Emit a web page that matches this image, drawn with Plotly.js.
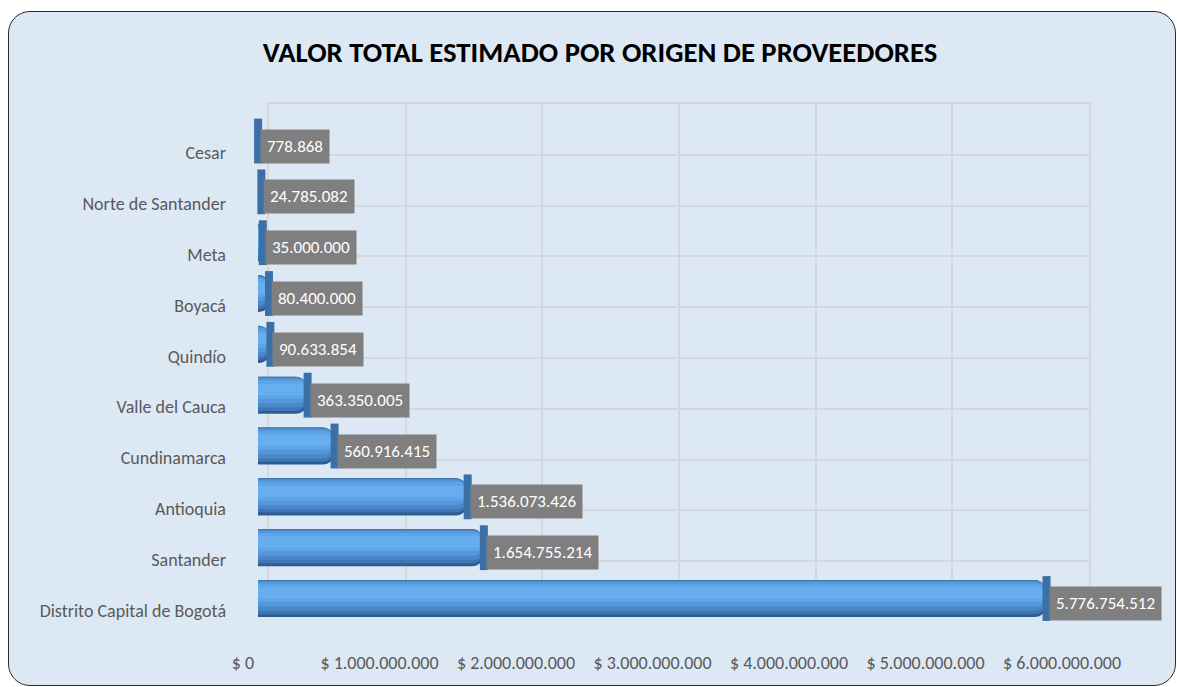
<!DOCTYPE html>
<html>
<head>
<meta charset="utf-8">
<script src="https://cdn.plot.ly/plotly-3.0.1.min.js"></script>
<style>
  html, body { margin: 0; padding: 0; background: #ffffff; }
  #wrap { position: relative; width: 1177px; height: 687px; overflow: hidden; }
  #frame { position: absolute; left: 8px; top: 11px; width: 1166px; height: 673px;
           background: #dde8f5; border: 1.5px solid #2b2b2b; border-radius: 22px; }
  #chart { position: absolute; left: 0; top: 0; width: 1177px; height: 687px; }
</style>
</head>
<body>
<div id="wrap">
  <div id="frame"></div>
  <div id="chart"></div>
</div>
<script>
// ---- data (bottom to top as drawn) ----
const categories = ['Distrito Capital de Bogotá', 'Santander', 'Antioquia', 'Cundinamarca',
  'Valle del Cauca', 'Quindío', 'Boyacá', 'Meta', 'Norte de Santander', 'Cesar'];
const values = [5776754512, 1654755214, 1536073426, 560916415, 363350005,
  90633854, 80400000, 35000000, 24785082, 778868];
const tickValues = [0, 1000000000, 2000000000, 3000000000, 4000000000, 5000000000, 6000000000];
const titleText = 'VALOR TOTAL ESTIMADO POR ORIGEN DE PROVEEDORES';

// ---- layout helpers ----
const W = 1177, H = 687;
const fx = p => p / W;
const fy = p => 1 - p / H;
const FONT = 'Carlito, Lato, sans-serif';
const fmt = v => String(v).replace(/\B(?=(\d{3})+(?!\d))/g, '.');

function xRange(zeroPx, pxPerBillion, left, right) {
  return [(left - zeroPx) / pxPerBillion * 1e9, (right - zeroPx) / pxPerBillion * 1e9];
}
function yRange(firstCenterPx, step, top, bottom) {
  return [(firstCenterPx - bottom) / step, (firstCenterPx - top) / step];
}

const PL = 230, PR = 1100, PT = 104, PB = 650;
const STEP = 50.83;
const idx = categories.map((c, i) => i);

// cylinder shading: [bottom, top, color, corner radius]
const shading = [
  [-0.365, 0.365, '#2e5c8e', 12],
  [-0.31, 0.365, '#3e77b4', 12],
  [-0.24, 0.35, '#4a88c9', 11],
  [-0.16, 0.33, '#5597d8', 10],
  [-0.07, 0.29, '#5ea4e6', 8],
  [0.0, 0.22, '#66aef0', 6]
];

function barLayer(s) {
  return {
    type: 'bar', orientation: 'h', x: values, y: categories,
    xaxis: 'x2', yaxis: 'y2', width: s[1] - s[0], offset: s[0],
    marker: { color: s[2], cornerradius: s[3], line: { width: 0 } },
    hoverinfo: 'skip', showlegend: false
  };
}
function hidden(xa, ya) {
  return {
    type: 'scatter', mode: 'markers', x: tickValues, y: tickValues.map((t, i) => i),
    xaxis: xa, yaxis: ya, marker: { opacity: 0, size: 1 },
    hoverinfo: 'skip', showlegend: false, cliponaxis: true
  };
}

const traces = [hidden('x', 'y')]
  .concat(shading.map(barLayer))
  .concat([{
    type: 'scatter', mode: 'markers', x: values, y: categories,
    xaxis: 'x2', yaxis: 'y2', hoverinfo: 'skip', showlegend: false,
    marker: { symbol: 'line-ns', size: 32, line: { width: 8, color: '#3b70a6' } }
  }, hidden('x3', 'y3')]);

const annotations = values.map((v, i) => ({
  xref: 'x2', yref: 'y2', x: v, y: categories[i],
  text: fmt(v), showarrow: false, xanchor: 'left', yanchor: 'middle',
  xshift: 2, yshift: -5, bgcolor: '#7f7f7f', borderpad: 6,
  font: { family: FONT, size: 17, color: '#ffffff' }
}));

const gridColor = '#d5d7da';
const labelColor = '#595959';

const layout = {
  width: W, height: H,
  margin: { l: 0, r: 0, t: 0, b: 0 },
  paper_bgcolor: 'rgba(0,0,0,0)', plot_bgcolor: 'rgba(0,0,0,0)',
  separators: ',.',
  barmode: 'overlay',
  showlegend: false,
  title: {
    text: '<b>' + titleText + '</b>', x: 600 / W, xanchor: 'center',
    y: fy(52), yanchor: 'middle', yref: 'paper',
    font: { family: FONT, size: 28.7, color: '#000000' }
  },
  // back wall grid
  xaxis: {
    domain: [fx(269), fx(1089)], anchor: 'y', range: [0, 6e9],
    tickvals: tickValues, showgrid: true, gridcolor: gridColor, gridwidth: 2,
    showticklabels: false, ticks: '', zeroline: false,
    showline: true, mirror: true, linecolor: gridColor, linewidth: 2
  },
  yaxis: {
    domain: [fy(612), fy(PT)], anchor: 'x', range: [-0.5, 9.5],
    tickvals: idx.slice(0, 9).map(i => i + 0.5),
    showgrid: true, gridcolor: gridColor, gridwidth: 2,
    showticklabels: false, ticks: '', zeroline: false,
    showline: true, mirror: true, linecolor: gridColor, linewidth: 2
  },
  // bars
  xaxis2: {
    domain: [fx(PL), fx(PR)], anchor: 'y2', range: xRange(258, 136.5, PL, PR),
    showgrid: false, zeroline: false, showticklabels: false, ticks: '', showline: false
  },
  yaxis2: {
    domain: [fy(PB), fy(PT)], anchor: 'x2', type: 'category',
    categoryorder: 'array', categoryarray: categories,
    range: yRange(598.5, STEP, PT, PB),
    showgrid: false, zeroline: false, showticklabels: false, ticks: '', showline: false
  },
  // front tick labels
  xaxis3: {
    overlaying: 'x2', anchor: 'y2', side: 'bottom', range: xRange(243, 136.5, PL, PR),
    tickvals: tickValues, ticktext: tickValues.map(v => '$ ' + fmt(v)),
    showgrid: false, zeroline: false, ticks: '', showline: false,
    tickfont: { family: FONT, size: 18, color: labelColor }
  },
  yaxis3: {
    overlaying: 'y2', anchor: 'x2', side: 'left', type: 'linear',
    range: yRange(610.5, STEP, PT, PB),
    tickvals: idx, ticktext: categories, ticklabelstandoff: 3,
    showgrid: false, zeroline: false, ticks: '', showline: false,
    tickfont: { family: FONT, size: 18, color: labelColor }
  },
  annotations: annotations
};

Plotly.newPlot('chart', traces, layout, { staticPlot: true, displayModeBar: false });
</script>
</body>
</html>
